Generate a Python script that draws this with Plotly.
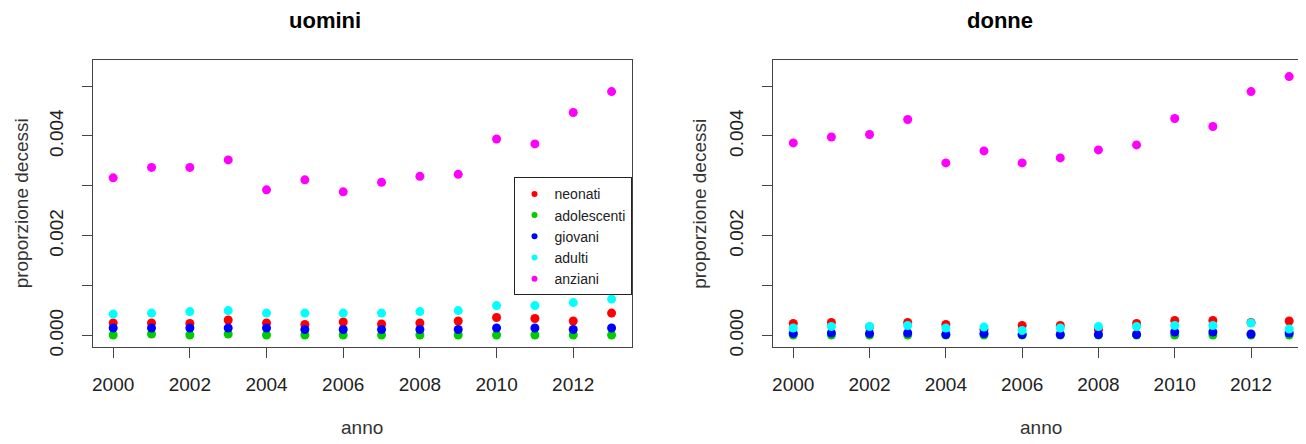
import plotly.graph_objects as go

# dati
anni = list(range(2000, 2014))
gruppi = ['neonati', 'adolescenti', 'giovani', 'adulti', 'anziani']
colori = ['#FF0000', '#00CD00', '#0000FF', '#00FFFF', '#FF00FF']

uomini_neonati = [0.00025, 0.00025, 0.00024, 0.00031, 0.00025, 0.00022, 0.00027,
                  0.00023, 0.00025, 0.00029, 0.00036, 0.00034, 0.00029, 0.00045]
uomini_adolescenti = [0.00001, 0.00003, 0.00001, 0.00003, 0.00001, 0.00001, 0.00001,
                      0.00001, 0.00001, 0.00001, 0.00001, 0.00001, 0.00001, 0.00001]
uomini_giovani = [0.00015, 0.00015, 0.00015, 0.00015, 0.00015, 0.00012, 0.00012,
                  0.00012, 0.00012, 0.00012, 0.00015, 0.00015, 0.00012, 0.00015]
uomini_adulti = [0.00043, 0.00045, 0.00048, 0.00050, 0.00045, 0.00045, 0.00045,
                 0.00045, 0.00048, 0.00050, 0.00060, 0.00060, 0.00066, 0.00073]
uomini_anziani = [0.00316, 0.00337, 0.00337, 0.00352, 0.00292, 0.00312, 0.00288,
                  0.00307, 0.00319, 0.00323, 0.00394, 0.00384, 0.00447, 0.00489]

donne_neonati = [0.00024, 0.00026, 0.00017, 0.00026, 0.00022, 0.00012, 0.00020,
                 0.00020, 0.00012, 0.00024, 0.00030, 0.00030, 0.00026, 0.00029]
donne_adolescenti = [0.00001, 0.00001, 0.00001, 0.00001, 0.00001, 0.00001, 0.00001,
                     0.00001, 0.00001, 0.00001, 0.00001, 0.00001, 0.00001, 0.00001]
donne_giovani = [0.00004, 0.00005, 0.00004, 0.00005, 0.00002, 0.00004, 0.00002,
                 0.00002, 0.00002, 0.00002, 0.00007, 0.00007, 0.00003, 0.00005]
donne_adulti = [0.00015, 0.00018, 0.00018, 0.00020, 0.00015, 0.00017, 0.00010,
                0.00015, 0.00018, 0.00018, 0.00020, 0.00020, 0.00025, 0.00013]
donne_anziani = [0.00386, 0.00398, 0.00403, 0.00433, 0.00346, 0.00370, 0.00346,
                 0.00356, 0.00372, 0.00382, 0.00435, 0.00419, 0.00489, 0.00519]

y_tick_vals = [0.000, 0.001, 0.002, 0.003, 0.004, 0.005]
y_tick_text = ['0.000', '', '0.002', '', '0.004', '']
x_tick_vals = [2000, 2002, 2004, 2006, 2008, 2010, 2012]

pannelli = {
    'uomini': [uomini_neonati, uomini_adolescenti, uomini_giovani, uomini_adulti, uomini_anziani],
    'donne': [donne_neonati, donne_adolescenti, donne_giovani, donne_adulti, donne_anziani],
}

FONT = 'Liberation Sans, Arial, sans-serif'
W, H = 1306, 444

fig = go.Figure()

for k, (nome, serie) in enumerate(pannelli.items()):
    xa = 'x' if k == 0 else 'x2'
    ya = 'y' if k == 0 else 'y2'
    for g, col, vals in zip(gruppi, colori, serie):
        fig.add_trace(go.Scatter(x=anni, y=vals, mode='markers', name=g,
                                 marker=dict(color=col, size=9), showlegend=False,
                                 xaxis=xa, yaxis=ya, hoverinfo='x+y+name'))

# voci della legenda (punti piccoli come in R)
for g, col in zip(gruppi, colori):
    fig.add_trace(go.Scatter(x=[None], y=[None], mode='markers', name=g,
                             marker=dict(color=col, size=6), showlegend=True))

asse_x = dict(range=[1999.48, 2013.52], tickvals=x_tick_vals, ticks='outside', ticklen=10,
              tickcolor='#444', showline=True, linecolor='#444', linewidth=1, mirror=True,
              showgrid=False, zeroline=False, tickfont=dict(size=19, color='#222'),
              ticklabelstandoff=10)
asse_y = dict(range=[-0.00023, 0.00553], tickvals=y_tick_vals, ticktext=y_tick_text,
              ticks='outside', ticklen=10, tickcolor='#444', showline=True, linecolor='#444',
              linewidth=1, mirror=True, showgrid=False, zeroline=False, tickangle=-90,
              tickfont=dict(size=19, color='#222'), ticklabelstandoff=12)

dom_x1 = [84.3 / W, 623 / W]
dom_x2 = [765 / W, 1301 / W]
dom_y = [1 - 346 / H, 1 - 52.7 / H]

fig.update_layout(
    width=W, height=H,
    margin=dict(l=0, r=0, t=0, b=0),
    paper_bgcolor='white', plot_bgcolor='white',
    font=dict(family=FONT, color='#222'),
    xaxis=dict(asse_x, domain=dom_x1, anchor='y'),
    yaxis=dict(asse_y, domain=dom_y, anchor='x'),
    xaxis2=dict(asse_x, domain=dom_x2, anchor='y2'),
    yaxis2=dict(asse_y, domain=dom_y, anchor='x2'),
    showlegend=True,
    legend=dict(x=623 / W, y=1 - 233 / H, xanchor='right', yanchor='middle',
                bgcolor='white', bordercolor='#222', borderwidth=1,
                font=dict(size=14, color='#222'), itemwidth=30),
)

annot = [
    dict(text='<b>uomini</b>', x=316 / W, y=1 - 13 / H, font=dict(size=22, color='black')),
    dict(text='<b>donne</b>', x=992 / W, y=1 - 13 / H, font=dict(size=22, color='black')),
    dict(text='anno', x=353.6 / W, y=1 - 428 / H, font=dict(size=19, color='#333')),
    dict(text='anno', x=1033 / W, y=1 - 428 / H, font=dict(size=19, color='#333')),
    dict(text='proporzione decessi', x=12 / W, y=1 - 199.4 / H, textangle=-90,
         font=dict(size=19, color='#333')),
    dict(text='proporzione decessi', x=691 / W, y=1 - 199.4 / H, textangle=-90,
         font=dict(size=19, color='#333')),
]
for a in annot:
    fig.add_annotation(xref='paper', yref='paper', xanchor='center', yanchor='middle',
                       showarrow=False, **a)

fig.write_html("out.html")
